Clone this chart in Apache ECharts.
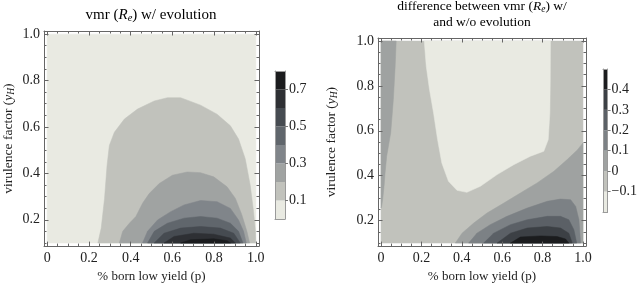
<!DOCTYPE html>
<html>
<head>
<meta charset="utf-8">
<script src="https://cdn.jsdelivr.net/npm/echarts@6/dist/echarts.min.js"></script>
<style>
  html, body { margin: 0; padding: 0; background: #fff; }
  #chart { width: 640px; height: 288px; }
</style>
</head>
<body>
<div id="chart"></div>
<script>
// tick values
const xMajor = [0, 0.2, 0.4, 0.6, 0.8, 1.0];
const xMinor = [0.05, 0.1, 0.15, 0.25, 0.3, 0.35, 0.45, 0.5, 0.55, 0.65, 0.7, 0.75, 0.85, 0.9, 0.95];
const yMajor = [0.2, 0.4, 0.6, 0.8, 1.0];
const yMinor = [0.1, 0.15, 0.25, 0.3, 0.35, 0.45, 0.5, 0.55, 0.65, 0.7, 0.75, 0.85, 0.9, 0.95];

// colour bar levels and labels
const leftLevels = [0, 0.1, 0.2, 0.3, 0.4, 0.5, 0.6, 0.7, 0.8];
const leftBarLabels = [0.1, 0.3, 0.5, 0.7];
const leftColors = ['#e9eae2', '#c1c2bc', '#a0a3a2', '#80858a', '#60666c', '#464b51', '#2e3034', '#1b1c1e'];
const rightLevels = [-0.2, -0.1, 0, 0.1, 0.2, 0.3, 0.4, 0.5];
const rightBarLabels = [-0.1, 0, 0.1, 0.2, 0.3, 0.4];
const rightColors = ['#e9eae2', '#c1c2bc', '#9fa2a1', '#7c8185', '#5b6066', '#3c4045', '#1b1c1e'];

// left panel: contour regions (p, yH), region above each level
const leftDomain = [[0, 0.1], [0, 1], [1, 1], [1, 0.1]];
const leftAbove01 = [[0.243, 0.1], [0.259, 0.164], [0.275, 0.292], [0.287, 0.434], [0.298, 0.52], [0.322, 0.577],
  [0.37, 0.634], [0.433, 0.677], [0.513, 0.712], [0.576, 0.726], [0.64, 0.726], [0.735, 0.694], [0.814, 0.655],
  [0.878, 0.605], [0.917, 0.548], [0.949, 0.463], [0.973, 0.349], [0.989, 0.235], [0.998, 0.15], [1.0, 0.1]];
const leftAbove02 = [[0.346, 0.1], [0.362, 0.15], [0.394, 0.185], [0.425, 0.214], [0.457, 0.271], [0.489, 0.313],
  [0.537, 0.356], [0.6, 0.392], [0.671, 0.406], [0.735, 0.403], [0.798, 0.385], [0.862, 0.342], [0.902, 0.292],
  [0.933, 0.221], [0.957, 0.15], [0.97, 0.1]];
const leftAbove03 = [[0.457, 0.1], [0.481, 0.15], [0.529, 0.199], [0.592, 0.235], [0.656, 0.264], [0.735, 0.283],
  [0.814, 0.278], [0.878, 0.249], [0.917, 0.199], [0.941, 0.15], [0.954, 0.1]];
const leftAbove04 = [[0.481, 0.1], [0.513, 0.15], [0.576, 0.185], [0.656, 0.207], [0.735, 0.214], [0.814, 0.207],
  [0.878, 0.185], [0.917, 0.15], [0.938, 0.1]];
const leftAbove05 = [[0.513, 0.1], [0.56, 0.142], [0.64, 0.164], [0.735, 0.171], [0.83, 0.164], [0.894, 0.142], [0.925, 0.1]];
const leftAbove06 = [[0.56, 0.1], [0.608, 0.128], [0.703, 0.142], [0.798, 0.138], [0.878, 0.121], [0.902, 0.1]];
const leftAbove07 = [[0.64, 0.1], [0.687, 0.114], [0.798, 0.118], [0.862, 0.11], [0.878, 0.1]];

// right panel regions
const rightDomain = [[0, 0.1], [0, 1], [1, 1], [1, 0.1]];
const rightBelowM01 = [[0.214, 1.0], [0.224, 0.888], [0.24, 0.784], [0.26, 0.68], [0.28, 0.561], [0.301, 0.457],
  [0.334, 0.375], [0.376, 0.335], [0.425, 0.326], [0.492, 0.353], [0.575, 0.405], [0.657, 0.449], [0.74, 0.487],
  [0.806, 0.509], [0.828, 0.561], [0.836, 0.68], [0.838, 0.829], [0.839, 1.0]];
const rightStripAbove0 = [[0, 1.0], [0.075, 1.0], [0.07, 0.888], [0.061, 0.74], [0.048, 0.591], [0.028, 0.487],
  [0.02, 0.412], [0.015, 0.353], [0.008, 0.293], [0.003, 0.263], [0, 0.256]];
const rightAbove0 = [[0.368, 0.1], [0.401, 0.144], [0.459, 0.189], [0.525, 0.234], [0.608, 0.278], [0.69, 0.323],
  [0.773, 0.368], [0.856, 0.42], [0.922, 0.472], [0.972, 0.515], [1.0, 0.546], [1.0, 0.1]];
const rightAbove01 = [[0.434, 0.1], [0.475, 0.144], [0.541, 0.182], [0.624, 0.219], [0.724, 0.256], [0.823, 0.286],
  [0.889, 0.296], [0.939, 0.293], [0.964, 0.263], [0.98, 0.204], [0.988, 0.1]];
const rightAbove02 = [[0.508, 0.1], [0.558, 0.144], [0.641, 0.182], [0.724, 0.204], [0.823, 0.219], [0.889, 0.219],
  [0.93, 0.204], [0.955, 0.159], [0.969, 0.1]];
const rightAbove03 = [[0.575, 0.1], [0.641, 0.144], [0.724, 0.167], [0.823, 0.174], [0.889, 0.167], [0.93, 0.144], [0.947, 0.1]];
const rightAbove04 = [[0.641, 0.1], [0.69, 0.127], [0.79, 0.132], [0.872, 0.129], [0.914, 0.118], [0.93, 0.1]];

const leftRegions = [
  { band: 0, pts: leftDomain }, { band: 1, pts: leftAbove01 }, { band: 2, pts: leftAbove02 },
  { band: 3, pts: leftAbove03 }, { band: 4, pts: leftAbove04 }, { band: 5, pts: leftAbove05 },
  { band: 6, pts: leftAbove06 }, { band: 7, pts: leftAbove07 }
];
const rightRegions = [
  { band: 1, pts: rightDomain }, { band: 0, pts: rightBelowM01 }, { band: 2, pts: rightStripAbove0 },
  { band: 2, pts: rightAbove0 }, { band: 3, pts: rightAbove01 }, { band: 4, pts: rightAbove02 },
  { band: 5, pts: rightAbove03 }, { band: 6, pts: rightAbove04 }
];

const FONT = "'Liberation Serif', 'Times New Roman', serif";
const FRAME = '#666';
const TEXT = '#222';
const X_MIN = -0.015, X_MAX = 1.015;
const Y_MIN = 0.0865, Y_MAX = 1.0135;

function richText(size, sub) {
  return {
    t: { fontFamily: FONT, fontSize: size, color: TEXT, lineHeight: size + 1 },
    i: { fontFamily: FONT, fontSize: size, color: TEXT, fontStyle: 'italic', lineHeight: size + 1 },
    s: { fontFamily: FONT, fontSize: sub, color: TEXT, fontStyle: 'italic', padding: [6, 0, 0, 0] }
  };
}

const fmtTick = v => (v === 0 ? '0' : v.toFixed(1));

function frameX(grid, name, nameGap) {
  const base = { gridIndex: grid, type: 'value', min: X_MIN, max: X_MAX, z: 5, splitLine: { show: false } };
  const line = { onZero: false, lineStyle: { color: FRAME, width: 1 } };
  const tickStyle = { color: FRAME, width: 1 };
  return [
    Object.assign({}, base, {
      position: 'bottom', axisLine: line,
      axisTick: { inside: true, length: 4.5, customValues: xMajor, lineStyle: tickStyle },
      axisLabel: { customValues: xMajor, formatter: fmtTick, margin: 5, color: TEXT, fontFamily: FONT, fontSize: 14 },
      name: name, nameLocation: 'middle', nameGap: nameGap,
      nameTextStyle: { fontFamily: FONT, fontSize: 13, color: TEXT }
    }),
    Object.assign({}, base, {
      position: 'bottom', axisLine: { show: false, onZero: false },
      axisTick: { inside: true, length: 2.5, customValues: xMinor, lineStyle: tickStyle },
      axisLabel: { show: false }
    }),
    Object.assign({}, base, {
      position: 'top', axisLine: line,
      axisTick: { inside: true, length: 4.5, customValues: xMajor, lineStyle: tickStyle },
      axisLabel: { show: false }
    }),
    Object.assign({}, base, {
      position: 'top', axisLine: { show: false, onZero: false },
      axisTick: { inside: true, length: 2.5, customValues: xMinor, lineStyle: tickStyle },
      axisLabel: { show: false }
    })
  ];
}

function frameY(grid, nameGap) {
  const base = { gridIndex: grid, type: 'value', min: Y_MIN, max: Y_MAX, z: 5, splitLine: { show: false } };
  const line = { onZero: false, lineStyle: { color: FRAME, width: 1 } };
  const tickStyle = { color: FRAME, width: 1 };
  return [
    Object.assign({}, base, {
      position: 'left', axisLine: line,
      axisTick: { inside: true, length: 4.5, customValues: yMajor, lineStyle: tickStyle },
      axisLabel: { customValues: yMajor, formatter: fmtTick, margin: 4, color: TEXT, fontFamily: FONT, fontSize: 14 },
      name: '{t|virulence factor (}{i|y}{s|H}{t|)}', nameLocation: 'middle', nameGap: nameGap,
      nameTextStyle: { rich: richText(13.5, 9.5) }
    }),
    Object.assign({}, base, {
      position: 'left', axisLine: { show: false, onZero: false },
      axisTick: { inside: true, length: 2.5, customValues: yMinor, lineStyle: tickStyle },
      axisLabel: { show: false }
    }),
    Object.assign({}, base, {
      position: 'right', axisLine: line,
      axisTick: { inside: true, length: 4.5, customValues: yMajor, lineStyle: tickStyle },
      axisLabel: { show: false }
    }),
    Object.assign({}, base, {
      position: 'right', axisLine: { show: false, onZero: false },
      axisTick: { inside: true, length: 2.5, customValues: yMinor, lineStyle: tickStyle },
      axisLabel: { show: false }
    })
  ];
}

function barX(grid) {
  const base = { gridIndex: grid, type: 'value', min: 0, max: 1, z: 5, splitLine: { show: false },
    axisTick: { show: false }, axisLabel: { show: false } };
  const line = { onZero: false, lineStyle: { color: '#9a9a9a', width: 1 } };
  return [
    Object.assign({}, base, { position: 'bottom', axisLine: line }),
    Object.assign({}, base, { position: 'top', axisLine: line })
  ];
}

function barY(grid, levels, labels) {
  const base = { gridIndex: grid, type: 'value', min: levels[0], max: levels[levels.length - 1], z: 5,
    splitLine: { show: false } };
  const line = { onZero: false, lineStyle: { color: '#9a9a9a', width: 1 } };
  return [
    Object.assign({}, base, { position: 'left', axisLine: line, axisTick: { show: false }, axisLabel: { show: false } }),
    Object.assign({}, base, {
      position: 'right', axisLine: line,
      axisTick: { customValues: labels, length: 3, lineStyle: { color: '#777' } },
      axisLabel: {
        customValues: labels, margin: 4, color: TEXT, fontFamily: FONT, fontSize: 14,
        formatter: v => (v < 0 ? '\u2212' + Math.abs(v) : String(v))
      }
    })
  ];
}

function contourSeries(regions, colors, xi, yi) {
  return {
    type: 'custom', coordinateSystem: 'cartesian2d', xAxisIndex: xi, yAxisIndex: yi, z: 1,
    silent: true, clip: false,
    data: regions.map(r => r.pts[0]),
    renderItem: (params, api) => {
      const r = regions[params.dataIndex];
      return {
        type: 'polygon',
        shape: { points: r.pts.map(p => api.coord(p)) },
        style: { fill: colors[r.band], stroke: colors[r.band], lineWidth: 0.5 }
      };
    }
  };
}

function barSeries(levels, colors, xi, yi) {
  return {
    type: 'custom', coordinateSystem: 'cartesian2d', xAxisIndex: xi, yAxisIndex: yi, z: 1,
    silent: true,
    data: levels.slice(0, -1).map((lo, i) => [0, lo, levels[i + 1]]),
    encode: { x: 0, y: [1, 2] },
    renderItem: (params, api) => {
      const top = api.coord([0, api.value(2)]);
      const bottom = api.coord([0, api.value(1)]);
      const cs = params.coordSys;
      return {
        type: 'rect',
        shape: { x: cs.x, y: top[1], width: cs.width, height: bottom[1] - top[1] },
        style: { fill: colors[params.dataIndex] }
      };
    }
  };
}

const chart = echarts.init(document.getElementById('chart'), null, { renderer: 'canvas' });

chart.setOption({
  animation: false,
  backgroundColor: '#fff',
  grid: [
    { left: 43, top: 31, width: 216, height: 216 },
    { left: 378, top: 38, width: 208, height: 209 },
    { left: 275, top: 71, width: 10, height: 148 },
    { left: 603, top: 69, width: 10, height: 143 }
  ],
  xAxis: [].concat(
    frameX(0, '% born low yield (p)', 14),
    frameX(1, '% born low yield (p)', 17),
    barX(2),
    barX(3)
  ),
  yAxis: [].concat(
    frameY(0, 28),
    frameY(1, 39),
    barY(2, leftLevels, leftBarLabels),
    barY(3, rightLevels, rightBarLabels)
  ),
  graphic: [
    {
      type: 'text', x: 151, y: 15,
      style: { text: '{t|vmr (}{i|R}{s|e}{t|) w/ evolution}', rich: richText(15, 10.5), align: 'center', verticalAlign: 'middle' }
    },
    {
      type: 'text', x: 482, y: 14,
      style: {
        text: '{t|difference between vmr (}{i|R}{s|e}{t|) w/}\n{t|and w/o evolution}',
        rich: richText(13.5, 9.5), align: 'center', verticalAlign: 'middle'
      }
    }
  ],
  series: [
    contourSeries(leftRegions, leftColors, 0, 0),
    contourSeries(rightRegions, rightColors, 4, 4),
    barSeries(leftLevels, leftColors, 8, 9),
    barSeries(rightLevels, rightColors, 10, 11)
  ]
});
</script>
</body>
</html>
